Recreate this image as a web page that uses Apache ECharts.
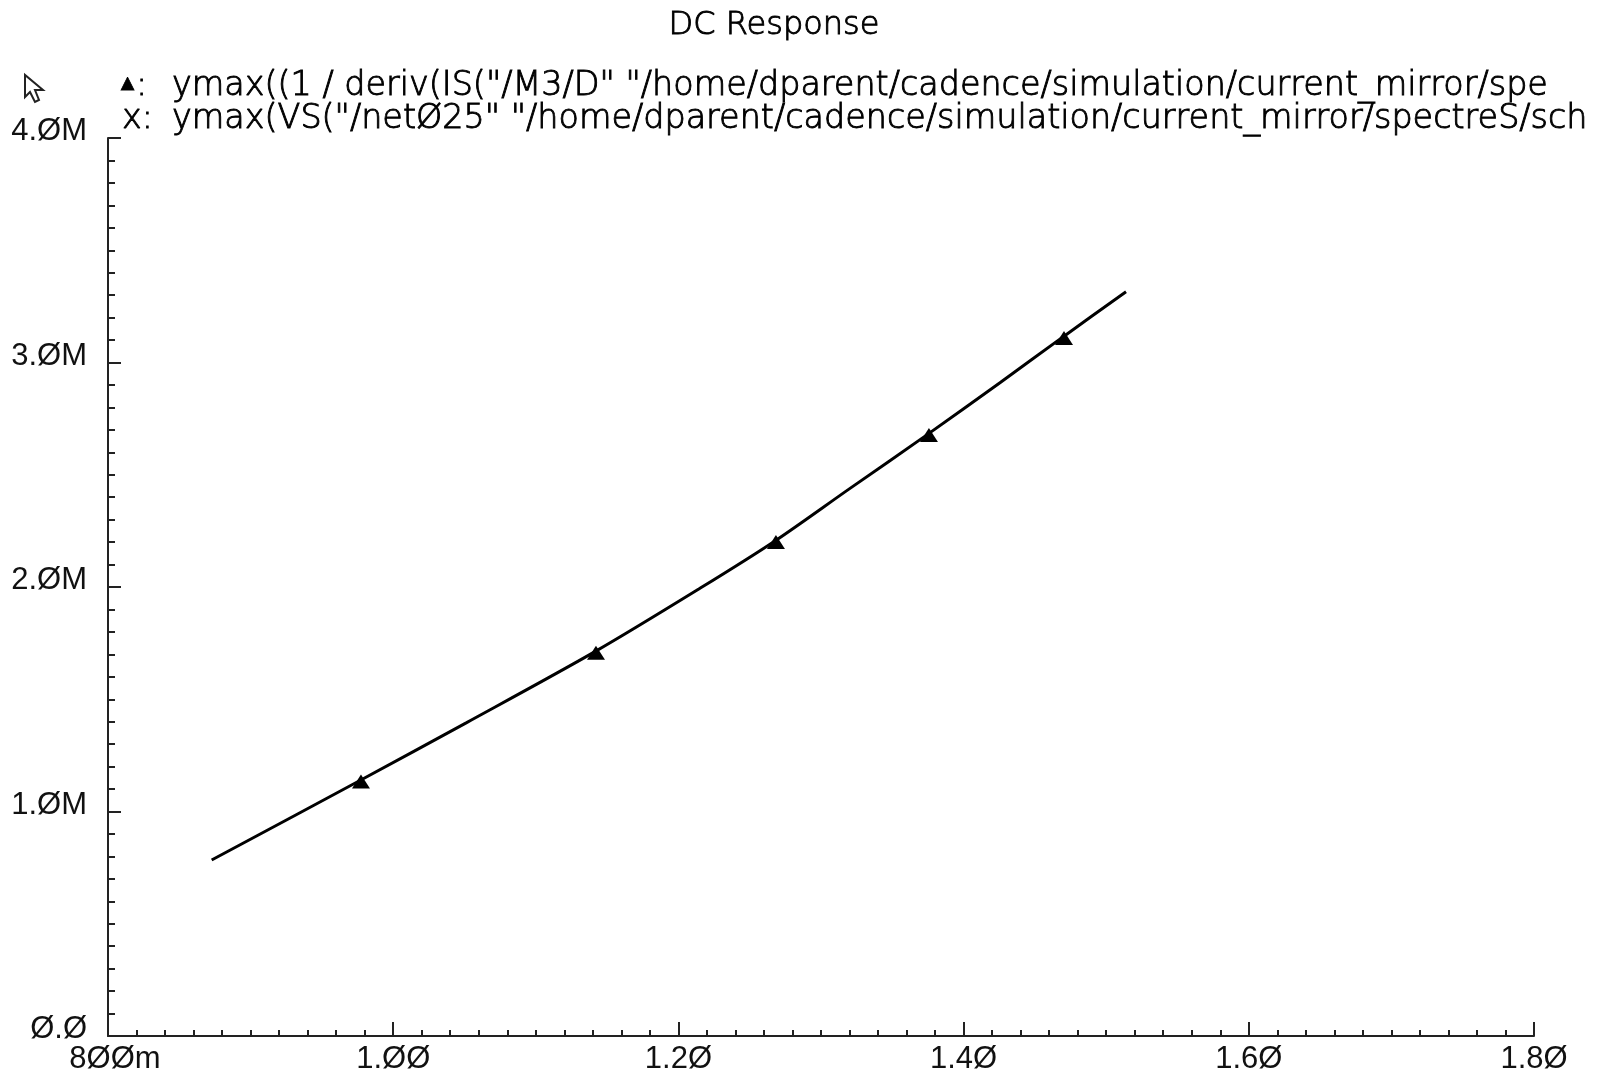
<!DOCTYPE html>
<html>
<head>
<meta charset="utf-8">
<title>DC Response</title>
<script src="https://cdn.jsdelivr.net/npm/echarts@6/dist/echarts.min.js"></script>
<style>
  html, body { margin: 0; padding: 0; background: #ffffff; }
  #chart { width: 1604px; height: 1076px; }
</style>
</head>
<body>
<div id="chart"></div>
<script>
// Swept source voltage (V) on the x axis
const sweepVolts = [0.8727, 0.9767, 1.0515, 1.1415, 1.2151, 1.2677, 1.3196, 1.375, 1.4255, 1.4697, 1.5139];
// Output resistance, in megaohms
const resistanceMeg = [0.784, 1.138, 1.396, 1.712, 1.994, 2.205, 2.436, 2.681, 2.910, 3.114, 3.315];
// Which samples carry the triangle marker
const markerFlags = [0, 1, 0, 1, 0, 1, 0, 1, 0, 1, 0];

// Tick labels (slashed zeros, as the waveform viewer prints them)
const xTickLabels = ['8ØØm', '1.ØØ', '1.2Ø', '1.4Ø', '1.6Ø', '1.8Ø'];
const yTickLabels = ['Ø.Ø', '1.ØM', '2.ØM', '3.ØM', '4.ØM'];

const titleText = 'DC Response';
const traceLine1 = 'ymax((1 / deriv(IS("/M3/D" "/home/dparent/cadence/simulation/current_mirror/spe';
const traceLine2 = 'ymax(VS("/netØ25" "/home/dparent/cadence/simulation/current_mirror/spectreS/sch';

const seriesData = sweepVolts.map((v, i) => ({
  value: [v, resistanceMeg[i] * 1e6],
  symbol: markerFlags[i] ? 'triangle' : 'none'
}));

const textFont = '200 33.4px "DejaVu Sans", sans-serif';
const tickFont = 'Liberation Sans';
const inkStyle = { fill: '#000', stroke: '#000', lineWidth: 0.9 };

const chart = echarts.init(document.getElementById('chart'), null, { renderer: 'canvas' });

chart.setOption({
  animation: false,
  backgroundColor: '#ffffff',
  grid: {
    left: 108,
    right: 70,
    top: 138,
    bottom: 40,
    containLabel: false,
    outerBoundsMode: 'none'
  },
  xAxis: {
    type: 'value',
    min: 0.8,
    max: 1.8,
    interval: 0.2,
    splitLine: { show: false },
    axisLine: { show: true, lineStyle: { color: '#222', width: 2 } },
    axisTick: { show: true, inside: true, length: 14, lineStyle: { color: '#222', width: 2 } },
    minorTick: { show: true, splitNumber: 10, length: 6, lineStyle: { color: '#222', width: 2 } },
    axisLabel: {
      show: true,
      margin: 8,
      color: '#111',
      fontFamily: tickFont,
      fontSize: 31,
      formatter: (v, idx) => idx === 0 ? '{first|' + xTickLabels[idx] + '}' : xTickLabels[idx],
      rich: {
        first: { fontFamily: tickFont, fontSize: 31, color: '#111', padding: [0, 0, 0, 14] }
      }
    }
  },
  yAxis: {
    type: 'value',
    min: 0,
    max: 4e6,
    interval: 1e6,
    splitLine: { show: false },
    axisLine: { show: true, lineStyle: { color: '#222', width: 2 } },
    axisTick: { show: true, inside: true, length: 13, lineStyle: { color: '#222', width: 2 } },
    minorTick: { show: true, splitNumber: 10, length: 7, lineStyle: { color: '#222', width: 2 } },
    axisLabel: {
      show: true,
      margin: 21,
      color: '#111',
      fontFamily: tickFont,
      fontSize: 31,
      lineHeight: 13,
      verticalAlign: 'bottom',
      formatter: (v, idx) => yTickLabels[idx]
    }
  },
  series: [{
    type: 'line',
    data: seriesData,
    smooth: 0.3,
    showSymbol: true,
    symbolSize: [18, 14],
    symbolOffset: [1, 1],
    lineStyle: { color: '#000', width: 3 },
    itemStyle: { color: '#000' },
    emphasis: { disabled: true }
  }],
  graphic: [
    {
      type: 'text',
      style: Object.assign({
        x: 774, y: 26, text: titleText, font: '200 32px "DejaVu Sans", sans-serif',
        textAlign: 'center', textVerticalAlign: 'middle'
      }, inkStyle)
    },
    {
      type: 'text',
      style: Object.assign({
        x: 121, y: 86, text: '{tri|▲}:', font: textFont,
        textAlign: 'left', textVerticalAlign: 'middle',
        rich: { tri: { font: '17px "DejaVu Sans", sans-serif', fill: '#000', padding: [0, 2, 4, 0] } }
      }, inkStyle)
    },
    {
      type: 'text',
      style: Object.assign({
        x: 172, y: 86, text: traceLine1, font: textFont,
        textAlign: 'left', textVerticalAlign: 'middle'
      }, inkStyle)
    },
    {
      type: 'text',
      style: Object.assign({
        x: 122, y: 119, text: 'x:', font: textFont,
        textAlign: 'left', textVerticalAlign: 'middle'
      }, inkStyle)
    },
    {
      type: 'text',
      style: Object.assign({
        x: 172, y: 119, text: traceLine2, font: textFont,
        textAlign: 'left', textVerticalAlign: 'middle'
      }, inkStyle)
    },
    {
      // pointer cursor in the top-left corner
      type: 'polygon',
      shape: {
        points: [[25, 75], [25, 97], [30, 92], [35, 102], [39, 100], [35, 90], [43, 90]]
      },
      style: { fill: '#ffffff', stroke: '#222', lineWidth: 2 }
    }
  ]
});
</script>
</body>
</html>
